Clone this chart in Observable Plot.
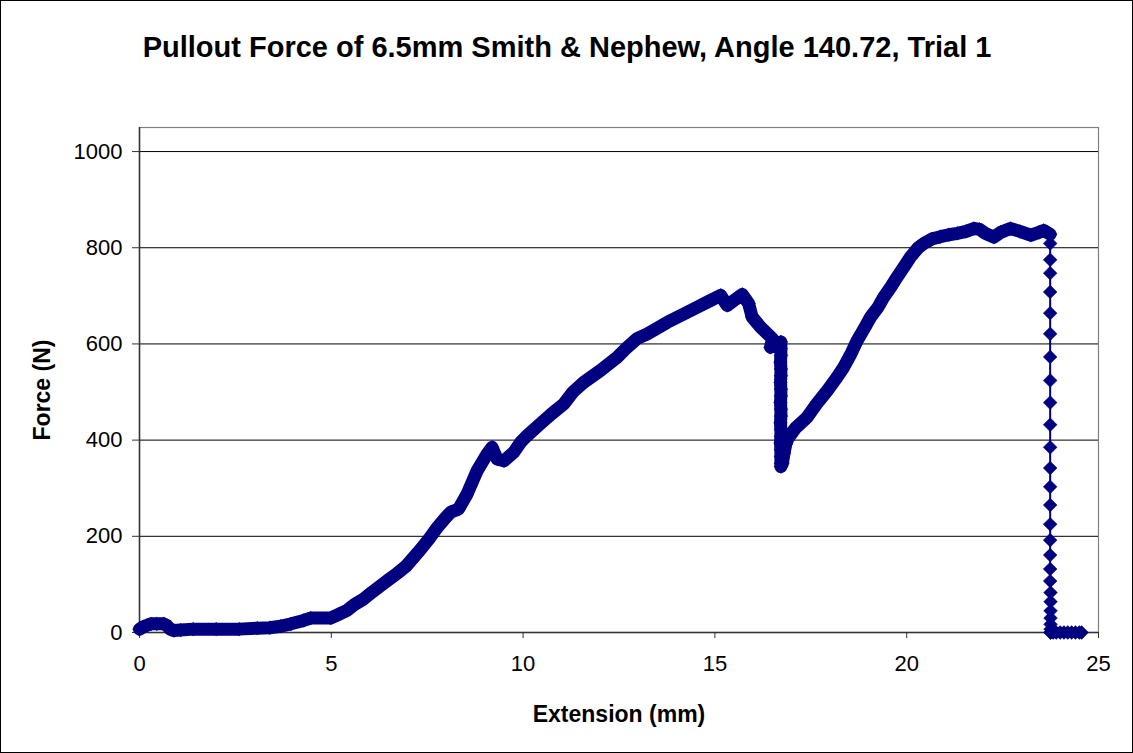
<!DOCTYPE html>
<html>
<head>
<meta charset="utf-8">
<script src="https://cdn.jsdelivr.net/npm/d3@7"></script>
<script src="https://cdn.jsdelivr.net/npm/@observablehq/plot@0.6"></script>
<style>
  html, body { margin: 0; padding: 0; background: #fff; }
  #chart svg { display: block; outline: 1px solid #000; outline-offset: -1px; }
</style>
</head>
<body>
<div id="chart"></div>
<script>
// ---- Data ----
const titleText = "Pullout Force of 6.5mm Smith & Nephew, Angle 140.72, Trial 1";
const xLabel = "Extension (mm)";
const yLabel = "Force (N)";
const xTicks = [0, 5, 10, 15, 20, 25];
const yTicks = [0, 200, 400, 600, 800, 1000];

// Loading phase (dense measurements), extension in mm
const loadingExt = [0.00,0.10,0.20,0.30,0.45,0.63,0.72,0.80,0.90,1.07,1.40,2.00,2.60,3.07,3.40,3.68,3.95,4.28,4.46,4.98,5.20,5.41,5.60,5.85,6.05,6.28,6.50,6.70,6.95,7.33,7.55,7.76,7.95,8.11,8.32,8.54,8.80,9.06,9.19,9.32,9.50,9.76,9.93,10.10,10.45,10.75,11.06,11.30,11.58,12.02,12.45,12.70,12.97,13.24,13.76,14.28,14.80,15.15,15.32,15.71,15.88,15.97,16.19,16.50,16.45,16.62,16.72,16.72,16.72,16.71,16.72,16.72,16.71,16.72,16.72,16.71,16.72,16.72,16.71,16.72,16.72,16.71,16.72,16.72,16.72,16.72,16.76,16.80,16.85,16.90,17.10,17.40,17.65,17.93,18.15,18.36,18.55,18.71,18.90,19.06,19.25,19.40,19.60,19.75,19.95,20.10,20.30,20.45,20.65,20.88,21.10,21.32,21.55,21.75,21.90,22.05,22.27,22.45,22.70,22.95,23.23,23.45,23.57,23.74];
// Loading phase force in N
const loadingForce = [7,12,15,18,18,18,14,7,4,5,7,7,7,9,10,13,18,25,30,30,38,46,58,70,83,97,110,122,138,173,195,218,236,250,257,288,336,371,385,361,357,375,395,409,434,455,475,500,520,545,572,592,611,621,645,666,687,701,680,703,684,656,635,611,593,600,604,590,576,562,548,534,520,506,492,478,464,450,436,422,408,394,380,366,352,345,352,372,392,403,425,447,475,503,527,552,580,607,633,656,676,697,720,739,763,781,800,809,818,823,827,830,834,840,838,830,822,832,840,834,826,832,836,828];

// Failure phase (sparse drop)
const failureExt = [23.74,23.74,23.74,23.74,23.74,23.74,23.74,23.74,23.74,23.74,23.74,23.74,23.74,23.74,23.74,23.74,23.74,23.74,23.74,23.75,23.75,23.75,23.75,23.75,23.75,23.75];
const failureForce = [809,775,747,708,664,621,573,524,478,432,385,342,303,265,225,192,161,132,107,83,64,45,30,17,7,0];

// Residual phase after pull-out (dense zero readings)
const residualExt = [23.75,23.82,23.90,24.00,24.10,24.20,24.30,24.40,24.50,24.56];
const residualForce = [0,0,0,0,0,0,0,0,0,0];

const loading = loadingExt.map((x, i) => ({x, y: loadingForce[i]}));
const failure = failureExt.map((x, i) => ({x, y: failureForce[i]}));
const residual = residualExt.map((x, i) => ({x, y: residualForce[i]}));
const allPoints = loading.concat(failure, residual);

const navy = "#000080";

const chart = Plot.plot({
  width: 1133,
  height: 753,
  marginLeft: 139,
  marginRight: 35,
  marginTop: 127,
  marginBottom: 121,
  style: {fontFamily: "'Liberation Sans', Arial, sans-serif", background: "#fff", color: "#000"},
  x: {domain: [0, 25], ticks: xTicks, label: null},
  y: {domain: [0, 1050], ticks: yTicks, label: null},
  marks: [
    Plot.frame({stroke: "#808080", strokeWidth: 1.2}),
    Plot.gridY([200, 400, 600, 800, 1000], {stroke: "#000", strokeOpacity: 1, strokeWidth: 1}),
    Plot.ruleX([0], {stroke: "#333", strokeWidth: 1.5}),
    Plot.ruleY([0], {stroke: "#333", strokeWidth: 1.5}),
    Plot.axisY({ticks: yTicks, tickSize: 7, tickPadding: 10, fontSize: 22, tickFormat: d3.format("d"), label: null, stroke: "#333"}),
    Plot.axisX({ticks: xTicks, tickSize: 6, tickPadding: 17, fontSize: 22, tickFormat: d3.format("d"), label: null, stroke: "#333"}),
    Plot.line(allPoints, {x: "x", y: "y", stroke: navy, strokeWidth: 2}),
    Plot.line(loading, {x: "x", y: "y", stroke: navy, strokeWidth: 13, strokeLinejoin: "round", strokeLinecap: "round"}),
    Plot.line(residual, {x: "x", y: "y", stroke: navy, strokeWidth: 10, strokeLinejoin: "round", strokeLinecap: "butt"}),
    Plot.dot(allPoints, {x: "x", y: "y", symbol: "diamond2", r: 6.2, fill: navy, stroke: navy, strokeWidth: 0.5}),
    Plot.text([titleText], {frameAnchor: "top", lineAnchor: "middle", textAnchor: "middle", dx: -52, dy: -80, fontSize: 29, fontWeight: "bold", fill: "#000"}),
    Plot.text([yLabel], {frameAnchor: "left", lineAnchor: "middle", textAnchor: "middle", dx: -97, dy: 10, rotate: -90, fontSize: 23, fontWeight: "bold", fill: "#000"}),
    Plot.text([xLabel], {frameAnchor: "bottom", lineAnchor: "middle", textAnchor: "middle", dx: 0, dy: 82, fontSize: 23, fontWeight: "bold", fill: "#000"})
  ]
});
document.getElementById("chart").appendChild(chart);
</script>
</body>
</html>
